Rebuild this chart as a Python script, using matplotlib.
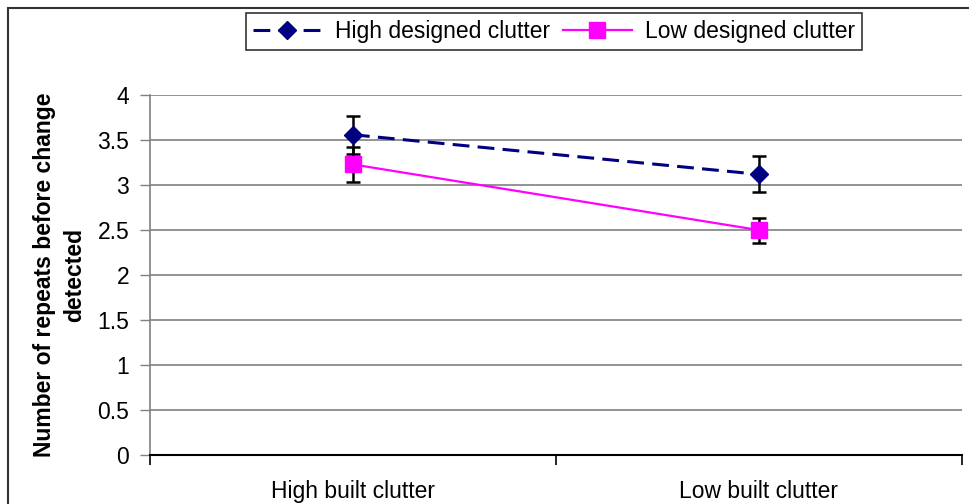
import matplotlib.pyplot as plt
from matplotlib.patches import Rectangle

plt.rcParams['font.family'] = ['Liberation Sans', 'DejaVu Sans']

# Données : moyennes et erreurs types par condition
categories = ["High built clutter", "Low built clutter"]
high_designed = [3.56, 3.12]
high_designed_err = [0.21, 0.20]
low_designed = [3.23, 2.50]
low_designed_err = [0.19, 0.14]
y_ticks = [0, 0.5, 1, 1.5, 2, 2.5, 3, 3.5, 4]

FS = 16.5

fig = plt.figure(figsize=(9.7, 5.04), dpi=100)
ax = fig.add_axes([0.1546, 0.0972, 0.837, 0.714])

x = [i + 0.5 for i in range(len(categories))]

ax.errorbar(x, high_designed, yerr=high_designed_err, fmt='none',
            ecolor='black', elinewidth=1.8, capsize=5, capthick=1.8, zorder=3)
ax.errorbar(x, low_designed, yerr=low_designed_err, fmt='none',
            ecolor='black', elinewidth=1.8, capsize=5, capthick=1.8, zorder=3)

ax.plot(x, high_designed, color='#000080', linestyle=(0, (5.5, 2.7)), linewidth=2.2,
        marker='D', markersize=9, label="High designed clutter", zorder=4)
ax.plot(x, low_designed, color='#FF00FF', linestyle='-', linewidth=1.6,
        marker='s', markersize=11, label="Low designed clutter", zorder=4)

ax.set_xlim(0, 2)
ax.set_ylim(0, 4)
ax.set_yticks(y_ticks)
ax.set_yticklabels([f"{v:g}" for v in y_ticks], fontsize=FS)
ax.yaxis.grid(True, color='#808080', linewidth=1.2)
ax.set_axisbelow(True)

# graduations entre les catégories, noms centrés
ax.set_xticks([0, 1, 2])
ax.set_xticklabels([])
ax.set_xticks(x, minor=True)
ax.set_xticklabels(categories, minor=True, fontsize=FS)
ax.tick_params(axis='x', which='minor', length=0, pad=18)
ax.tick_params(axis='x', which='major', length=7, width=1.2, direction='out')
ax.tick_params(axis='y', length=7, width=1, color='#808080', direction='out', pad=8)

for s in ['top', 'right']:
    ax.spines[s].set_visible(False)
ax.spines['left'].set_color('#808080')
ax.spines['left'].set_linewidth(1.2)
ax.spines['bottom'].set_color('black')
ax.spines['bottom'].set_linewidth(1.5)

ax.set_ylabel("Number of repeats before change\ndetected", fontsize=FS,
              fontweight='bold', linespacing=1.4, labelpad=8)

leg = ax.legend(loc='upper center', bbox_to_anchor=(554 / 970, 1 - 13 / 504),
                bbox_transform=fig.transFigure, ncol=2,
                fontsize=FS, frameon=True, fancybox=False, handlelength=3.0,
                numpoints=1, columnspacing=0.55, handletextpad=0.6,
                borderpad=0.3, borderaxespad=0, edgecolor='black')
leg.get_frame().set_linewidth(1.2)

# cadre extérieur de la figure
fig.patches.append(Rectangle((8 / 970, -0.1), 1.1, (504 - 8) / 504 + 0.1,
                             transform=fig.transFigure, fill=False,
                             edgecolor='#333333', linewidth=1.5))

fig.savefig("out.png", dpi=100)
